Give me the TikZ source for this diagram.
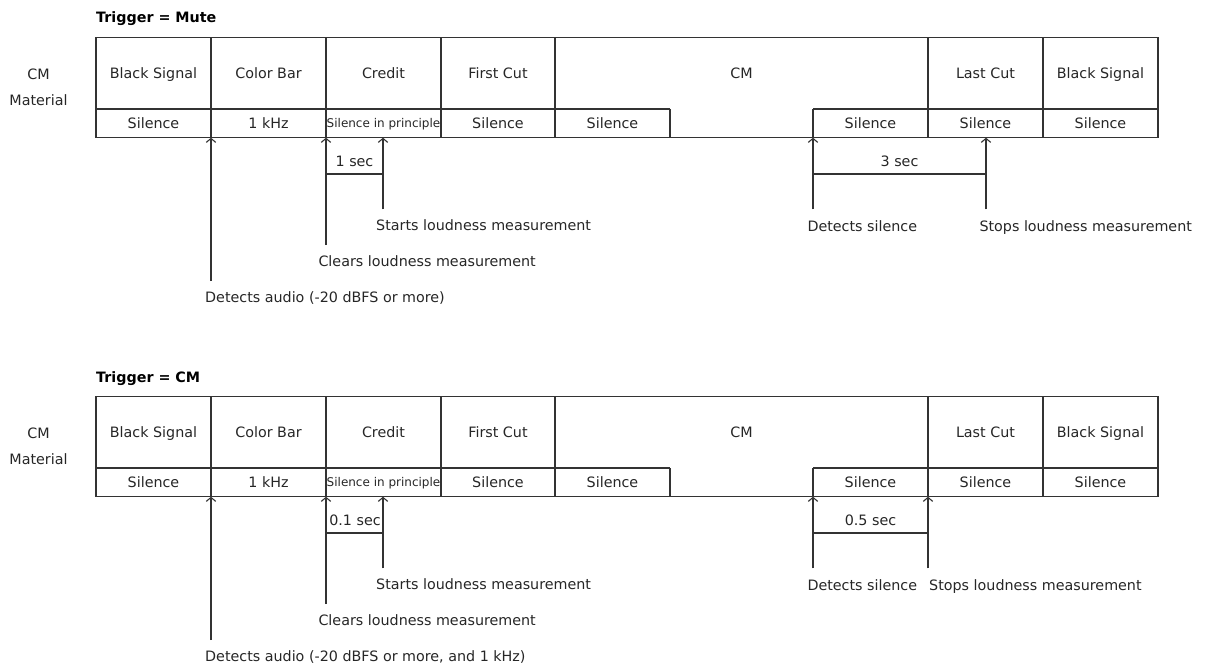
\documentclass[tikz,border=0pt]{standalone}
\usepackage{fontspec}
\setmainfont{DejaVu Sans}
\usetikzlibrary{arrows.meta}
\tikzset{
  lbl/.style={font=\fontsize{14.3}{17}\selectfont, inner sep=0pt, text height=10.5pt, text depth=3pt, text=black!85, yshift=-1.5pt},
  smalllbl/.style={font=\fontsize{12}{14}\selectfont, inner sep=0pt, text height=9pt, text depth=2.5pt, text=black!85, yshift=-1pt},
  ttl/.style={font=\bfseries\fontsize{14.3}{17}\selectfont, inner sep=0pt, anchor=west, text height=10.5pt, text depth=3pt, yshift=-1pt},
  note/.style={lbl, anchor=west},
  gridline/.style={line width=1.1pt, draw=black!80},
  marker/.style={line width=1.1pt, draw=black!80, -{Straight Barb[length=4pt,width=9.5pt]}},
  bracketline/.style={line width=1.1pt, draw=black!80},
}
\newcommand{\cmgrid}[1]{%
  \draw[gridline] (96,37.7) rectangle (1158,137.7);
  \draw[gridline] (96,109) -- (670,109) (813,109) -- (1158,109);
  \foreach \xx in {211,326,441,555,928,1043} \draw[gridline] (\xx,37.7) -- (\xx,137.7);
  \draw[gridline] (670,109) -- (670,137.7) (813,109) -- (813,137.7);
  \node[lbl, align=center, font=\fontsize{14.3}{26}\selectfont, text height=, text depth=] (#1side) at (38.5,86) {CM\\Material};
  \node[lbl] (#1u1) at (153.5,73) {Black Signal};
  \node[lbl] (#1u2) at (268.5,73) {Color Bar};
  \node[lbl] (#1u3) at (383.5,73) {Credit};
  \node[lbl] (#1u4) at (498,73) {First Cut};
  \node[lbl] (#1u5) at (741.5,73) {CM};
  \node[lbl] (#1u6) at (985.5,73) {Last Cut};
  \node[lbl] (#1u7) at (1100.5,73) {Black Signal};
  \node[lbl] (#1l1) at (153.5,123.5) {Silence};
  \node[lbl] (#1l2) at (268.5,123.5) {1 kHz};
  \node[smalllbl] (#1l3) at (383.5,123.5) {Silence in principle};
  \node[lbl] (#1l4) at (498,123.5) {Silence};
  \node[lbl] (#1l5) at (612.5,123.5) {Silence};
  \node[lbl] (#1l6) at (870.5,123.5) {Silence};
  \node[lbl] (#1l7) at (985.5,123.5) {Silence};
  \node[lbl] (#1l8) at (1100.5,123.5) {Silence};
  % arrow tips on the bottom edge
  \coordinate (#1t1) at (211,137.7);
  \coordinate (#1t2) at (326,137.7);
  \coordinate (#1t3) at (383,137.7);
  \coordinate (#1t4) at (813,137.7);
  % arrow free ends
  \coordinate (#1e1) at (211,281);
  \coordinate (#1e2) at (326,245);
  \coordinate (#1e3) at (383,209.3);
  \coordinate (#1e4) at (813,209.3);
  \draw[marker] (#1e1) -- (#1t1);
  \draw[marker] (#1e2) -- (#1t2);
  \draw[marker] (#1e3) -- (#1t3);
  \draw[marker] (#1e4) -- (#1t4);
  \coordinate (#1b1) at (326,174);
  \coordinate (#1b2) at (383,174);
  \draw[bracketline] (#1b1) -- (#1b2);
  \node[note] (#1n1) at (376,225.7) {Starts loudness measurement};
  \node[note] (#1n2) at (807.3,226) {Detects silence};
  \node[note] (#1n3) at (318.3,261.7) {Clears loudness measurement};
}
\begin{document}
\begin{tikzpicture}[x=1pt,y=-1pt]
\useasboundingbox (0,0) rectangle (1211,666);
% ---------- top panel ----------
\begin{scope}
  \node[ttl] (atitle) at (96,17.3) {Trigger = Mute};
  \cmgrid{a}
  \coordinate (at5) at (986,137.7);
  \coordinate (ae5) at (986,209.3);
  \draw[marker] (ae5) -- (at5);
  \coordinate (ab3) at (813,174);
  \coordinate (ab4) at (986,174);
  \draw[bracketline] (ab3) -- (ab4);
  \node[lbl] (asec1) at (354.5,161) {1 sec};
  \node[lbl] (asec2) at (899.5,161.5) {3 sec};
  \node[note] (an4) at (979.3,226) {Stops loudness measurement};
  \node[note] (an5) at (205,297.3) {Detects audio (-20 dBFS or more)};
\end{scope}
% ---------- bottom panel ----------
\begin{scope}[yshift=-359pt]
  \node[ttl] (btitle) at (96,18.3) {Trigger = CM};
  \cmgrid{b}
  \coordinate (bt5) at (928,137.7);
  \coordinate (be5) at (928,209.3);
  \draw[marker] (be5) -- (bt5);
  \coordinate (bb3) at (813,174);
  \coordinate (bb4) at (928,174);
  \draw[bracketline] (bb3) -- (bb4);
  \node[lbl] (bsec1) at (355,161) {0.1 sec};
  \node[lbl] (bsec2) at (870.5,161.5) {0.5 sec};
  \node[note] (bn4) at (929,226) {Stops loudness measurement};
  \node[note] (bn5) at (205,297.3) {Detects audio (-20 dBFS or more, and 1 kHz)};
\end{scope}
\end{tikzpicture}
\end{document}
